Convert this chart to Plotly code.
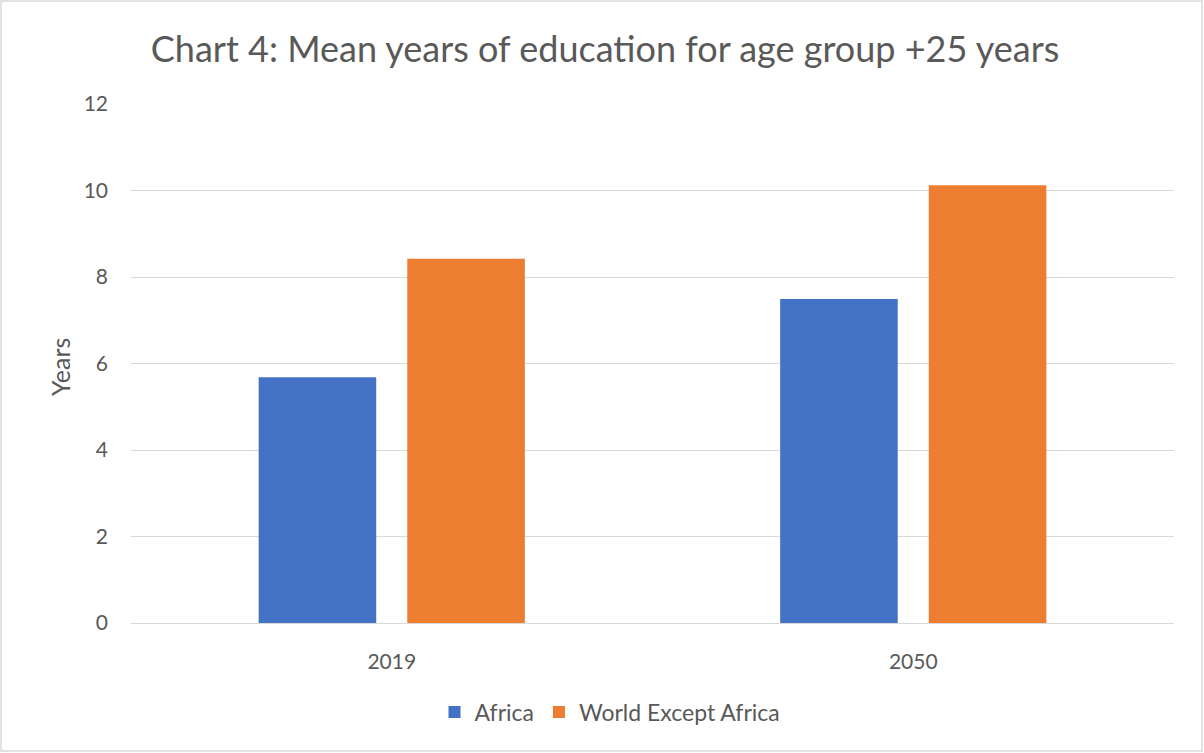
import plotly.graph_objects as go

# Mean years of education, population aged 25+
years = ["2019", "2050"]
africa = [5.68, 7.49]
world_except_africa = [8.42, 10.12]
y_ticks = [0, 2, 4, 6, 8, 10, 12]

W, H = 1204, 753
L, R, T, B = 131, 30, 104, 130
plot_w = W - L - R
plot_h = H - T - B

TEXT = "#595959"
GRID = "#D9D9D9"
FONT = "Lato, 'Open Sans', sans-serif"

fig = go.Figure()
fig.add_trace(go.Bar(name="Africa", x=years, y=africa,
                     marker=dict(color="#4472C4", line=dict(width=0))))
fig.add_trace(go.Bar(name="World Except Africa", x=years, y=world_except_africa,
                     marker=dict(color="#ED7D31", line=dict(width=0))))


def px_x(p):
    return (p - L) / plot_w


def px_y(p):
    return (H - B - p) / plot_h


fig.update_layout(
    width=W, height=H,
    margin=dict(l=L, r=R, t=T, b=B, autoexpand=False),
    paper_bgcolor="white", plot_bgcolor="white",
    barmode="group", bargap=0.43, bargroupgap=0.209,
    font=dict(family=FONT, color=TEXT, size=21),
    title=dict(text="Chart 4: Mean years of education for age group +25 years",
               x=605 / W, xref="container", xanchor="center",
               y=1 - 49 / H, yref="container", yanchor="middle",
               font=dict(size=36, color=TEXT, family=FONT)),
    xaxis=dict(showgrid=False, showline=False, zeroline=False, ticks="",
               ticklabelstandoff=24, tickfont=dict(size=21, color=TEXT)),
    yaxis=dict(range=[0, 12], tickvals=y_ticks, showgrid=True, gridcolor=GRID,
               gridwidth=1.3, zeroline=True, zerolinecolor=GRID, zerolinewidth=1.3,
               showline=False, ticks="", ticklabelstandoff=22,
               tickfont=dict(size=21, color=TEXT)),
    legend=dict(orientation="h", x=px_x(610), xanchor="center",
                y=px_y(712), yanchor="middle",
                font=dict(size=23, color=TEXT), itemwidth=30,
                traceorder="normal"),
    showlegend=True,
)

fig.add_annotation(text="Years", textangle=-90, showarrow=False,
                   xref="paper", yref="paper", x=px_x(60), y=px_y(367),
                   xanchor="center", yanchor="middle",
                   font=dict(size=25, color=TEXT, family=FONT))

# chart area border
fig.add_shape(type="rect", xref="paper", yref="paper",
              x0=px_x(1), x1=px_x(W - 2), y0=px_y(H - 2), y1=px_y(1),
              line=dict(color=GRID, width=1.5), fillcolor="rgba(0,0,0,0)",
              layer="below")

fig.write_html("out.html")
